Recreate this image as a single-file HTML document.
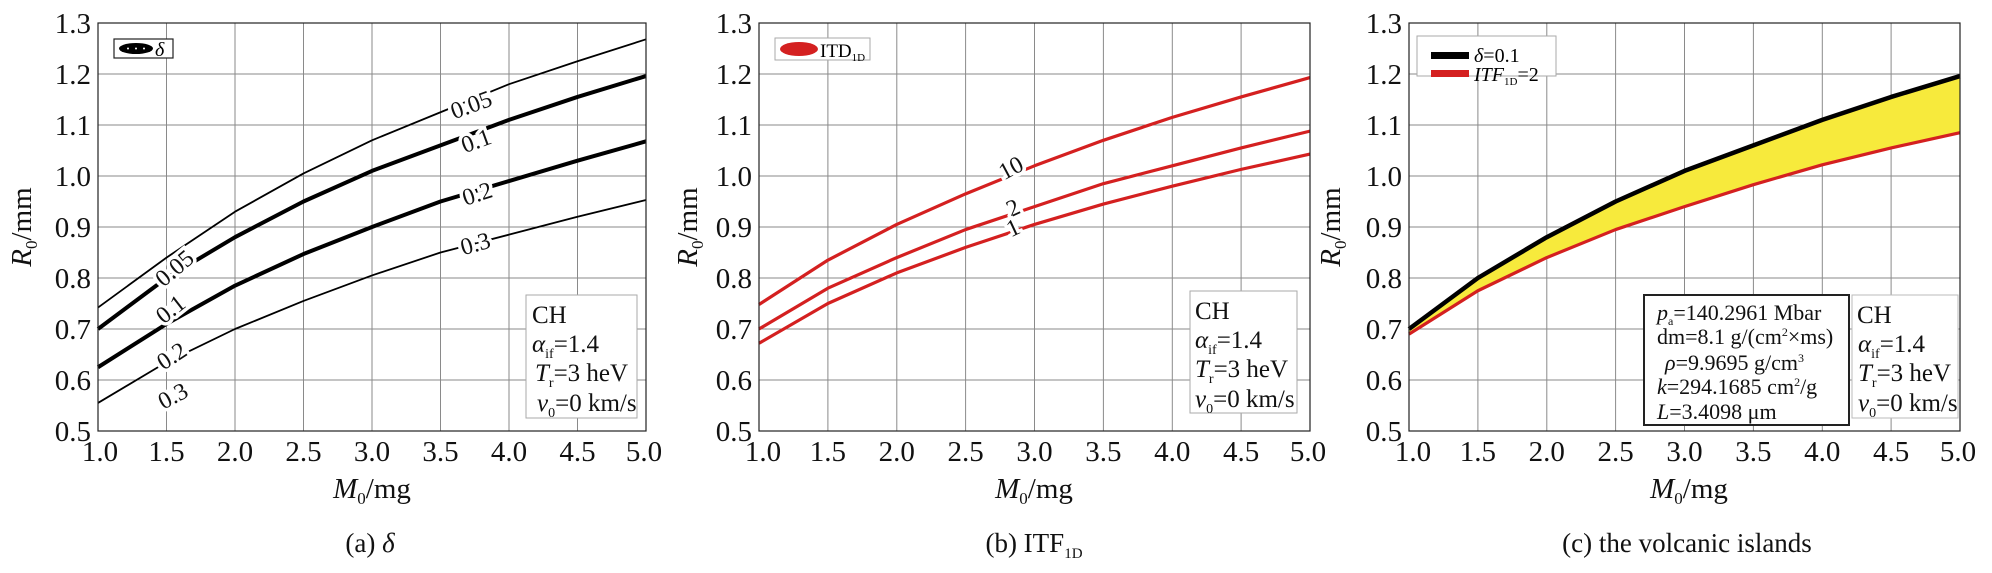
<!DOCTYPE html>
<html><head><meta charset="utf-8"><style>
body{margin:0;background:#fff;}
svg{display:block;font-family:"Liberation Serif",serif;}
.g line{stroke:#8a8a8a;stroke-width:1}
.t{font-size:29px;fill:#111}
.c polyline{fill:none;vector-effect:non-scaling-stroke;stroke-linejoin:round}
.lbl{font-size:24px;fill:#111;stroke:#fff;stroke-width:7px;paint-order:stroke;text-anchor:middle;dominant-baseline:middle}
.box{font-size:25px;fill:#111}
</style></head><body>
<svg width="1992" height="573" viewBox="0 0 1992 573">

<!-- PANEL A -->
<g>
<g class="g">
<line x1="166.5" y1="23" x2="166.5" y2="431"/><line x1="235" y1="23" x2="235" y2="431"/><line x1="303.5" y1="23" x2="303.5" y2="431"/><line x1="372" y1="23" x2="372" y2="431"/><line x1="440.5" y1="23" x2="440.5" y2="431"/><line x1="509" y1="23" x2="509" y2="431"/><line x1="577.5" y1="23" x2="577.5" y2="431"/>
<line x1="98" y1="74" x2="646" y2="74"/><line x1="98" y1="125" x2="646" y2="125"/><line x1="98" y1="176" x2="646" y2="176"/><line x1="98" y1="227" x2="646" y2="227"/><line x1="98" y1="278" x2="646" y2="278"/><line x1="98" y1="329" x2="646" y2="329"/><line x1="98" y1="380" x2="646" y2="380"/>
</g>
<g class="c" transform="translate(-39,686) scale(137,-510)">
<polyline stroke="#000" stroke-width="1.8" points="1,0.742 1.5,0.84 2,0.93 2.5,1.005 3,1.07 3.5,1.125 4,1.18 4.5,1.225 5,1.268"/>
<polyline stroke="#000" stroke-width="4" points="1,0.70 1.5,0.80 2,0.88 2.5,0.95 3,1.01 3.5,1.06 4,1.11 4.5,1.155 5,1.196"/>
<polyline stroke="#000" stroke-width="4" points="1,0.625 1.5,0.71 2,0.785 2.5,0.847 3,0.90 3.5,0.95 4,0.99 4.5,1.03 5,1.068"/>
<polyline stroke="#000" stroke-width="1.8" points="1,0.555 1.5,0.635 2,0.70 2.5,0.755 3,0.805 3.5,0.85 4,0.885 4.5,0.92 5,0.953"/>
</g>
<text class="lbl" transform="translate(176,270) rotate(-40)">0.05</text>
<text class="lbl" transform="translate(172,311) rotate(-38)">0.1</text>
<text class="lbl" transform="translate(173,358) rotate(-33)">0.2</text>
<text class="lbl" transform="translate(174,398) rotate(-28)">0.3</text>
<text class="lbl" transform="translate(472,107) rotate(-20)">0.05</text>
<text class="lbl" transform="translate(477,143) rotate(-20)">0.1</text>
<text class="lbl" transform="translate(478,196) rotate(-18)">0.2</text>
<text class="lbl" transform="translate(476,246) rotate(-16)">0.3</text>
<rect x="98" y="23" width="548" height="408" fill="none" stroke="#222" stroke-width="1.2"/>
<rect x="114" y="39" width="59" height="19" fill="#fff" stroke="#222" stroke-width="1.2"/>
<ellipse cx="136" cy="48.5" rx="17" ry="5.5" fill="#000"/>
<circle cx="128" cy="48.5" r="1" fill="#fff"/><circle cx="136" cy="48.5" r="1" fill="#fff"/><circle cx="144" cy="48.5" r="1" fill="#fff"/>
<text x="155" y="56" style="font-size:20px;font-style:italic">δ</text>
<rect x="526" y="295" width="111" height="123" fill="#fff" stroke="#aaa" stroke-width="1"/>
<text class="box" x="532" y="323">CH</text>
<text class="box" x="532" y="352"><tspan font-style="italic">α</tspan><tspan font-size="14" dy="6">if</tspan><tspan dy="-6">=1.4</tspan></text>
<text class="box" x="535" y="381"><tspan font-style="italic">T</tspan><tspan font-size="14" dy="6">r</tspan><tspan dy="-6">=3 heV</tspan></text>
<text class="box" x="537" y="411"><tspan font-style="italic">v</tspan><tspan font-size="14" dy="6">0</tspan><tspan dy="-6">=0 km/s</tspan></text>
<g class="t" text-anchor="end">
<text x="91" y="33">1.3</text><text x="91" y="84">1.2</text><text x="91" y="135">1.1</text><text x="91" y="186">1.0</text><text x="91" y="237">0.9</text><text x="91" y="288">0.8</text><text x="91" y="339">0.7</text><text x="91" y="390">0.6</text><text x="91" y="441">0.5</text>
</g>
<g class="t" text-anchor="middle">
<text x="100" y="461">1.0</text><text x="166.5" y="461">1.5</text><text x="235" y="461">2.0</text><text x="303.5" y="461">2.5</text><text x="372" y="461">3.0</text><text x="440.5" y="461">3.5</text><text x="509" y="461">4.0</text><text x="577.5" y="461">4.5</text><text x="644" y="461">5.0</text>
</g>
<text class="t" x="372" y="498" text-anchor="middle"><tspan font-style="italic">M</tspan><tspan font-size="17" dy="6">0</tspan><tspan dy="-6">/mg</tspan></text>
<text class="t" transform="translate(31,227) rotate(-90)" text-anchor="middle"><tspan font-style="italic">R</tspan><tspan font-size="17" dy="6">0</tspan><tspan dy="-6">/mm</tspan></text>
<text class="t" x="370" y="552" text-anchor="middle" style="font-size:27px">(a) <tspan font-style="italic">δ</tspan></text>
</g>

<!-- PANEL B -->
<g>
<g class="g">
<line x1="827.9" y1="23" x2="827.9" y2="431"/><line x1="896.8" y1="23" x2="896.8" y2="431"/><line x1="965.6" y1="23" x2="965.6" y2="431"/><line x1="1034.5" y1="23" x2="1034.5" y2="431"/><line x1="1103.4" y1="23" x2="1103.4" y2="431"/><line x1="1172.3" y1="23" x2="1172.3" y2="431"/><line x1="1241.1" y1="23" x2="1241.1" y2="431"/>
<line x1="759" y1="74" x2="1310" y2="74"/><line x1="759" y1="125" x2="1310" y2="125"/><line x1="759" y1="176" x2="1310" y2="176"/><line x1="759" y1="227" x2="1310" y2="227"/><line x1="759" y1="278" x2="1310" y2="278"/><line x1="759" y1="329" x2="1310" y2="329"/><line x1="759" y1="380" x2="1310" y2="380"/>
</g>
<g class="c" transform="translate(621.25,686) scale(137.75,-510)">
<polyline stroke="#d42020" stroke-width="3.2" points="1,0.748 1.5,0.835 2,0.905 2.5,0.965 3,1.02 3.5,1.07 4,1.115 4.5,1.155 5,1.193"/>
<polyline stroke="#d42020" stroke-width="3.2" points="1,0.70 1.5,0.78 2,0.84 2.5,0.895 3,0.94 3.5,0.985 4,1.02 4.5,1.055 5,1.088"/>
<polyline stroke="#d42020" stroke-width="3.2" points="1,0.672 1.5,0.75 2,0.81 2.5,0.86 3,0.905 3.5,0.945 4,0.98 4.5,1.013 5,1.043"/>
</g>
<text class="lbl" transform="translate(1012,170) rotate(-28)">10</text>
<text class="lbl" transform="translate(1014,210) rotate(-25)">2</text>
<text class="lbl" transform="translate(1014,230) rotate(-25)">1</text>
<rect x="759" y="23" width="551" height="408" fill="none" stroke="#222" stroke-width="1.2"/>
<rect x="775" y="38" width="95" height="22" fill="#fff" stroke="#aaa" stroke-width="1"/>
<ellipse cx="799" cy="49" rx="19" ry="7" fill="#d42020"/>
<text x="820" y="57" style="font-size:19px">ITD<tspan font-size="11" dy="4">1D</tspan></text>
<rect x="1190" y="291" width="107" height="122" fill="#fff" stroke="#aaa" stroke-width="1"/>
<text class="box" x="1195" y="319">CH</text>
<text class="box" x="1195" y="348"><tspan font-style="italic">α</tspan><tspan font-size="14" dy="6">if</tspan><tspan dy="-6">=1.4</tspan></text>
<text class="box" x="1195" y="377"><tspan font-style="italic">T</tspan><tspan font-size="14" dy="6">r</tspan><tspan dy="-6">=3 heV</tspan></text>
<text class="box" x="1195" y="407"><tspan font-style="italic">v</tspan><tspan font-size="14" dy="6">0</tspan><tspan dy="-6">=0 km/s</tspan></text>
<g class="t" text-anchor="end">
<text x="752" y="33">1.3</text><text x="752" y="84">1.2</text><text x="752" y="135">1.1</text><text x="752" y="186">1.0</text><text x="752" y="237">0.9</text><text x="752" y="288">0.8</text><text x="752" y="339">0.7</text><text x="752" y="390">0.6</text><text x="752" y="441">0.5</text>
</g>
<g class="t" text-anchor="middle">
<text x="763" y="461">1.0</text><text x="827.9" y="461">1.5</text><text x="896.8" y="461">2.0</text><text x="965.6" y="461">2.5</text><text x="1034.5" y="461">3.0</text><text x="1103.4" y="461">3.5</text><text x="1172.3" y="461">4.0</text><text x="1241.1" y="461">4.5</text><text x="1308" y="461">5.0</text>
</g>
<text class="t" x="1034" y="498" text-anchor="middle"><tspan font-style="italic">M</tspan><tspan font-size="17" dy="6">0</tspan><tspan dy="-6">/mg</tspan></text>
<text class="t" transform="translate(697,227) rotate(-90)" text-anchor="middle"><tspan font-style="italic">R</tspan><tspan font-size="17" dy="6">0</tspan><tspan dy="-6">/mm</tspan></text>
<text class="t" x="1034" y="552" text-anchor="middle" style="font-size:27px">(b) ITF<tspan font-size="15" dy="6">1D</tspan></text>
</g>

<!-- PANEL C -->
<g>
<g class="g">
<line x1="1477.9" y1="23" x2="1477.9" y2="431"/><line x1="1546.8" y1="23" x2="1546.8" y2="431"/><line x1="1615.6" y1="23" x2="1615.6" y2="431"/><line x1="1684.5" y1="23" x2="1684.5" y2="431"/><line x1="1753.4" y1="23" x2="1753.4" y2="431"/><line x1="1822.3" y1="23" x2="1822.3" y2="431"/><line x1="1891.1" y1="23" x2="1891.1" y2="431"/>
<line x1="1409" y1="74" x2="1960" y2="74"/><line x1="1409" y1="125" x2="1960" y2="125"/><line x1="1409" y1="176" x2="1960" y2="176"/><line x1="1409" y1="227" x2="1960" y2="227"/><line x1="1409" y1="278" x2="1960" y2="278"/><line x1="1409" y1="329" x2="1960" y2="329"/><line x1="1409" y1="380" x2="1960" y2="380"/>
</g>
<g class="c" transform="translate(1271.25,686) scale(137.75,-510)">
<polygon fill="#f7ea3c" stroke="none" points="1,0.70 1.5,0.80 2,0.88 2.5,0.95 3,1.01 3.5,1.06 4,1.11 4.5,1.155 5,1.196 5,1.085 4.5,1.055 4,1.022 3.5,0.983 3,0.94 2.5,0.895 2,0.84 1.5,0.775 1,0.69"/>
<polyline stroke="#000" stroke-width="4.5" points="1,0.70 1.5,0.80 2,0.88 2.5,0.95 3,1.01 3.5,1.06 4,1.11 4.5,1.155 5,1.196"/>
<polyline stroke="#d42020" stroke-width="3.2" points="1,0.69 1.5,0.775 2,0.84 2.5,0.895 3,0.94 3.5,0.983 4,1.022 4.5,1.055 5,1.085"/>
</g>
<rect x="1409" y="23" width="551" height="408" fill="none" stroke="#222" stroke-width="1.2"/>
<rect x="1417" y="36" width="139" height="40" fill="#fff" stroke="#aaa" stroke-width="1"/>
<rect x="1431" y="52" width="38" height="7" fill="#000"/>
<rect x="1431" y="70" width="38" height="7" fill="#d42020"/>
<text x="1474" y="62" style="font-size:20px"><tspan font-style="italic">δ</tspan>=0.1</text>
<text x="1474" y="81" style="font-size:20px"><tspan font-style="italic">ITF</tspan><tspan font-size="11" dy="4">1D</tspan><tspan dy="-4">=2</tspan></text>
<rect x="1644" y="295" width="205" height="130" fill="#fff" stroke="#222" stroke-width="2"/>
<g class="box" style="font-size:22px">
<text x="1657" y="320"><tspan font-style="italic">p</tspan><tspan font-size="12" dy="5">a</tspan><tspan dy="-5">=140.2961 Mbar</tspan></text>
<text x="1657" y="344">dm=8.1 g/(cm<tspan font-size="12" dy="-8">2</tspan><tspan dy="8">×ms)</tspan></text>
<text x="1665" y="370"><tspan font-style="italic">ρ</tspan>=9.9695 g/cm<tspan font-size="12" dy="-8">3</tspan></text>
<text x="1657" y="394"><tspan font-style="italic">k</tspan>=294.1685 cm<tspan font-size="12" dy="-8">2</tspan><tspan dy="8">/g</tspan></text>
<text x="1657" y="419"><tspan font-style="italic">L</tspan>=3.4098 μm</text>
</g>
<rect x="1852" y="295" width="106" height="123" fill="#fff" stroke="#bbb" stroke-width="1"/>
<text class="box" x="1857" y="323">CH</text>
<text class="box" x="1858" y="352"><tspan font-style="italic">α</tspan><tspan font-size="14" dy="6">if</tspan><tspan dy="-6">=1.4</tspan></text>
<text class="box" x="1858" y="381"><tspan font-style="italic">T</tspan><tspan font-size="14" dy="6">r</tspan><tspan dy="-6">=3 heV</tspan></text>
<text class="box" x="1858" y="411"><tspan font-style="italic">v</tspan><tspan font-size="14" dy="6">0</tspan><tspan dy="-6">=0 km/s</tspan></text>
<g class="t" text-anchor="end">
<text x="1402" y="33">1.3</text><text x="1402" y="84">1.2</text><text x="1402" y="135">1.1</text><text x="1402" y="186">1.0</text><text x="1402" y="237">0.9</text><text x="1402" y="288">0.8</text><text x="1402" y="339">0.7</text><text x="1402" y="390">0.6</text><text x="1402" y="441">0.5</text>
</g>
<g class="t" text-anchor="middle">
<text x="1413" y="461">1.0</text><text x="1477.9" y="461">1.5</text><text x="1546.8" y="461">2.0</text><text x="1615.6" y="461">2.5</text><text x="1684.5" y="461">3.0</text><text x="1753.4" y="461">3.5</text><text x="1822.3" y="461">4.0</text><text x="1891.1" y="461">4.5</text><text x="1958" y="461">5.0</text>
</g>
<text class="t" x="1689" y="498" text-anchor="middle"><tspan font-style="italic">M</tspan><tspan font-size="17" dy="6">0</tspan><tspan dy="-6">/mg</tspan></text>
<text class="t" transform="translate(1340,227) rotate(-90)" text-anchor="middle"><tspan font-style="italic">R</tspan><tspan font-size="17" dy="6">0</tspan><tspan dy="-6">/mm</tspan></text>
<text class="t" x="1687" y="552" text-anchor="middle" style="font-size:27px">(c) the volcanic islands</text>
</g>
</svg>
</body></html>
